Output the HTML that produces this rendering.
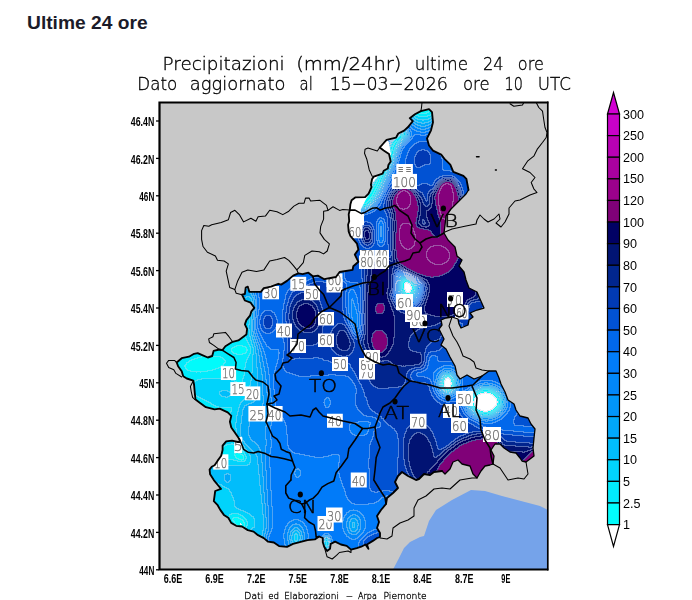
<!DOCTYPE html>
<html lang="it"><head><meta charset="utf-8"><title>Ultime 24 ore</title>
<style>
html,body{margin:0;padding:0;background:#fff;}
body{width:692px;height:600px;overflow:hidden;position:relative;font-family:"Liberation Sans",sans-serif;}
h2{position:absolute;left:26.8px;top:12.2px;margin:0;font-size:17.5px;line-height:22px;font-weight:700;color:#1b1b29;white-space:nowrap;transform:scaleX(1.098);transform-origin:0 0;}
svg{position:absolute;left:0;top:0;}
body>svg{will-change:transform;opacity:0.999;}
</style></head><body>
<h2>Ultime 24 ore</h2>
<svg width="692" height="600" viewBox="0 0 692 600">
<g font-family="DejaVu Sans Light, DejaVu Sans, Liberation Sans, sans-serif" font-weight="200" font-size="18" fill="#000" stroke="#000" stroke-width="0.35"><text><tspan x="162.6" y="70" textLength="122.0" lengthAdjust="spacingAndGlyphs">Precipitazioni</tspan> <tspan x="296.2" y="70" textLength="105.3" lengthAdjust="spacingAndGlyphs">(mm/24hr)</tspan> <tspan x="414.8" y="70" textLength="53.2" lengthAdjust="spacingAndGlyphs">ultime</tspan> <tspan x="483" y="70" textLength="20.5" lengthAdjust="spacingAndGlyphs">24</tspan> <tspan x="517.8" y="70" textLength="26.0" lengthAdjust="spacingAndGlyphs">ore</tspan></text><text><tspan x="137.3" y="90" textLength="39.9" lengthAdjust="spacingAndGlyphs">Dato</tspan> <tspan x="189.8" y="90" textLength="95.7" lengthAdjust="spacingAndGlyphs">aggiornato</tspan> <tspan x="299.5" y="90" textLength="13.3" lengthAdjust="spacingAndGlyphs">al</tspan> <tspan x="329.4" y="90" textLength="118.6" lengthAdjust="spacingAndGlyphs">15−03−2026</tspan> <tspan x="463" y="90" textLength="26.6" lengthAdjust="spacingAndGlyphs">ore</tspan> <tspan x="504.5" y="90" textLength="18.3" lengthAdjust="spacingAndGlyphs">10</tspan> <tspan x="537.8" y="90" textLength="33.2" lengthAdjust="spacingAndGlyphs">UTC</tspan></text></g>
<rect x="159.5" y="102.5" width="388.5" height="467.0" fill="#c8c8c8"/>
<svg x="0" y="0" width="692" height="600" viewBox="0 0 692 600">
<defs><clipPath id="frame"><rect x="159.5" y="102.5" width="388.5" height="467.0"/></clipPath></defs>
<g clip-path="url(#frame)">
<defs>
<clipPath id="pm"><polygon points="429.0,109.1 432.0,112.1 433.0,122.3 431.0,130.3 427.0,138.4 429.0,145.5 433.0,150.6 441.2,154.6 445.2,159.7 450.3,164.7 453.3,171.8 463.4,175.9 466.4,178.9 468.5,190.0 466.0,194.0 458.0,202.0 451.0,209.0 446.0,216.0 445.0,225.0 444.0,233.0 448.0,240.0 455.0,247.0 457.0,256.0 462.0,260.0 459.0,266.0 464.0,272.0 466.0,280.0 469.0,288.0 477.0,292.0 480.0,299.0 484.0,308.0 477.0,310.0 470.0,313.0 473.0,317.0 469.0,320.0 468.0,325.0 461.0,328.0 459.0,324.0 458.0,319.0 452.0,317.0 446.0,318.0 441.0,320.0 442.0,325.0 439.0,329.0 442.0,335.0 444.0,339.0 441.0,345.0 446.0,349.0 450.0,357.0 455.0,366.0 457.0,375.0 460.0,379.0 467.0,375.0 474.0,379.0 482.0,376.0 489.0,371.0 496.0,371.0 499.0,378.0 501.0,384.0 505.0,392.0 508.0,400.0 514.0,404.0 516.0,410.0 520.0,416.0 528.0,418.0 531.0,424.0 535.0,429.0 534.0,438.0 533.0,448.0 534.0,456.0 530.0,459.0 526.0,462.0 522.0,461.0 520.0,458.0 516.0,453.0 510.0,452.0 504.0,448.0 500.0,444.0 495.0,444.0 491.0,450.0 494.0,456.0 493.0,464.0 490.0,465.0 485.0,466.0 481.0,471.0 477.0,478.0 473.0,474.0 470.0,466.0 462.0,464.0 458.0,460.0 453.0,462.0 450.0,469.0 445.0,474.0 442.0,471.0 434.0,472.0 430.0,475.0 424.0,474.0 419.0,479.0 416.0,480.0 408.0,476.0 402.0,472.0 398.0,476.0 395.0,482.0 398.0,488.0 393.0,493.0 387.0,498.0 386.0,504.0 381.0,510.0 377.0,516.0 379.0,522.0 377.0,528.0 380.0,533.0 380.0,537.0 377.1,538.0 372.8,540.9 367.0,544.5 368.4,548.8 365.5,544.5 361.2,546.7 356.8,548.1 351.0,549.6 346.7,545.9 340.9,544.5 335.1,541.6 330.7,543.8 330.0,548.8 327.1,551.0 324.2,546.7 322.8,542.3 322.8,538.0 319.1,536.5 314.8,539.4 307.5,540.1 298.8,542.3 293.0,543.8 287.0,546.8 279.0,546.1 273.9,542.5 268.1,541.7 263.8,538.1 258.0,535.2 253.6,531.6 247.8,530.1 242.0,526.5 236.2,525.8 231.2,522.9 228.3,517.8 223.9,514.9 220.3,509.9 217.4,504.8 213.8,501.2 214.5,496.1 215.2,491.0 221.0,488.8 217.4,484.5 213.8,480.1 210.1,474.3 209.6,469.6 211.7,466.7 214.6,465.2 217.5,460.9 221.2,455.8 222.6,450.0 222.6,445.7 226.2,441.3 232.0,440.6 237.8,442.0 240.0,442.0 239.3,439.1 236.4,434.8 231.3,427.5 229.9,421.7 231.3,415.9 227.7,412.3 219.7,408.7 214.6,409.4 205.9,407.2 200.1,402.9 195.5,399.5 194.8,393.0 194.1,385.0 193.3,380.7 186.8,378.5 183.2,376.3 181.7,371.2 178.1,366.2 176.7,362.5 181.7,358.2 189.0,356.7 194.1,353.8 197.7,353.1 202.8,355.3 207.8,357.5 212.2,356.0 213.6,350.9 219.4,349.5 222.3,350.2 225.4,346.2 232.6,341.8 238.4,340.4 246.4,334.6 247.1,328.8 244.9,324.4 246.4,320.1 250.0,315.7 251.4,311.4 254.3,307.8 250.7,302.7 244.9,300.5 242.0,294.7 244.9,294.0 245.7,287.5 247.8,286.7 249.3,291.8 260.9,291.8 263.8,288.2 271.0,286.7 278.3,283.8 281.2,284.6 287.0,280.9 293.2,275.6 298.3,273.4 302.6,274.1 308.4,272.7 312.8,276.3 317.8,275.6 324.3,279.2 335.9,277.0 339.6,272.0 352.6,269.8 353.3,266.2 358.4,261.8 354.8,254.6 358.4,249.5 357.0,243.7 353.3,239.3 350.4,236.0 348.7,231.6 348.1,224.7 349.2,221.2 348.7,214.2 349.8,210.1 350.4,204.2 351.6,200.2 355.2,197.4 365.1,197.1 368.6,193.6 371.5,187.1 370.9,184.8 372.1,179.0 373.8,176.6 382.6,173.7 383.7,170.8 387.8,168.5 388.4,165.0 390.7,161.5 389.0,153.9 383.7,150.4 379.7,147.5 386.6,139.9 396.0,137.6 398.3,133.5 404.1,130.6 407.8,127.3 412.8,121.2 409.8,118.2 414.9,114.2 420.9,111.1"/></clipPath>
<filter id="bands" x="150" y="95" width="410" height="485" filterUnits="userSpaceOnUse" color-interpolation-filters="sRGB">
<feGaussianBlur stdDeviation="2.2" result="b"/>
<feComponentTransfer in="b" result="c"><feFuncR type="discrete" tableValues="1.000 0.000 0.000 0.000 0.000 0.000 0.000 0.000 0.000 0.000 0.000 0.000 0.000 0.000 0.000 0.502 0.522"/><feFuncG type="discrete" tableValues="1.000 0.988 0.922 0.831 0.745 0.659 0.588 0.529 0.486 0.408 0.322 0.227 0.149 0.078 0.000 0.000 0.000"/><feFuncB type="discrete" tableValues="1.000 0.988 0.988 0.988 0.988 0.980 0.980 0.980 0.980 0.925 0.831 0.706 0.557 0.451 0.392 0.471 0.490"/></feComponentTransfer>
<feComponentTransfer in="b" result="q"><feFuncR type="discrete" tableValues="0.0294 0.0882 0.1471 0.2059 0.2647 0.3235 0.3824 0.4412 0.5000 0.5588 0.6176 0.6765 0.7353 0.7941 0.8529 0.9118 0.9706"/></feComponentTransfer>
<feMorphology in="q" operator="dilate" radius="0.6" result="q2"/>
<feBlend in="q" in2="q2" mode="difference" result="d"/>
<feColorMatrix in="d" type="matrix" values="0 0 0 0 0.78  0 0 0 0 0.8  0 0 0 0 0.9  7 0 0 0 0" result="e"/>
<feComposite in="e" in2="c" operator="over"/>
</filter></defs>
<defs><filter id="bl0.4" x="-100%" y="-100%" width="300%" height="300%" color-interpolation-filters="sRGB"><feGaussianBlur stdDeviation="0.4"/></filter><filter id="bl0.5" x="-100%" y="-100%" width="300%" height="300%" color-interpolation-filters="sRGB"><feGaussianBlur stdDeviation="0.5"/></filter><filter id="bl0.6" x="-100%" y="-100%" width="300%" height="300%" color-interpolation-filters="sRGB"><feGaussianBlur stdDeviation="0.6"/></filter><filter id="bl0.7" x="-100%" y="-100%" width="300%" height="300%" color-interpolation-filters="sRGB"><feGaussianBlur stdDeviation="0.7"/></filter><filter id="bl0.8" x="-100%" y="-100%" width="300%" height="300%" color-interpolation-filters="sRGB"><feGaussianBlur stdDeviation="0.8"/></filter><filter id="bl1" x="-100%" y="-100%" width="300%" height="300%" color-interpolation-filters="sRGB"><feGaussianBlur stdDeviation="1"/></filter><filter id="bl1.2" x="-100%" y="-100%" width="300%" height="300%" color-interpolation-filters="sRGB"><feGaussianBlur stdDeviation="1.2"/></filter><filter id="bl1.3" x="-100%" y="-100%" width="300%" height="300%" color-interpolation-filters="sRGB"><feGaussianBlur stdDeviation="1.3"/></filter><filter id="bl1.5" x="-100%" y="-100%" width="300%" height="300%" color-interpolation-filters="sRGB"><feGaussianBlur stdDeviation="1.5"/></filter><filter id="bl2" x="-100%" y="-100%" width="300%" height="300%" color-interpolation-filters="sRGB"><feGaussianBlur stdDeviation="2"/></filter><filter id="bl2.2" x="-100%" y="-100%" width="300%" height="300%" color-interpolation-filters="sRGB"><feGaussianBlur stdDeviation="2.2"/></filter><filter id="bl2.5" x="-100%" y="-100%" width="300%" height="300%" color-interpolation-filters="sRGB"><feGaussianBlur stdDeviation="2.5"/></filter><filter id="bl3" x="-100%" y="-100%" width="300%" height="300%" color-interpolation-filters="sRGB"><feGaussianBlur stdDeviation="3"/></filter><filter id="bl3.5" x="-100%" y="-100%" width="300%" height="300%" color-interpolation-filters="sRGB"><feGaussianBlur stdDeviation="3.5"/></filter><filter id="bl4" x="-100%" y="-100%" width="300%" height="300%" color-interpolation-filters="sRGB"><feGaussianBlur stdDeviation="4"/></filter><filter id="bl5" x="-100%" y="-100%" width="300%" height="300%" color-interpolation-filters="sRGB"><feGaussianBlur stdDeviation="5"/></filter></defs>
<polygon points="393.0,569.5 398.0,560.0 404.0,548.0 410.0,542.0 420.0,537.0 424.0,536.0 429.0,521.0 436.0,510.0 452.0,500.0 471.0,490.0 485.0,491.0 502.0,496.0 540.0,506.0 548.0,510.0 548.0,569.5" fill="#75a3ea"/>
<g clip-path="url(#pm)"><g filter="url(#bands)">
<rect x="140" y="90" width="430" height="500" fill="#8e8e8e"/>
<polygon points="150.0,270.0 300.0,270.0 292.0,330.0 284.0,400.0 290.0,470.0 296.0,560.0 150.0,560.0" fill="#808080" filter="url(#bl5)"/>
<polygon points="150.0,280.0 255.0,283.0 257.0,303.0 259.0,332.0 265.0,360.0 269.0,376.0 272.0,400.0 274.0,452.0 280.0,491.0 290.0,521.0 294.0,560.0 150.0,560.0" fill="#696969" filter="url(#bl2.5)"/>
<polygon points="150.0,285.0 252.0,285.0 254.0,303.0 256.0,332.0 261.0,360.0 264.0,376.0 265.0,400.0 264.0,452.0 270.0,491.0 279.0,521.0 284.0,560.0 150.0,560.0" fill="#525252" filter="url(#bl2.5)"/>
<polygon points="150.0,330.0 250.0,300.0 253.0,332.0 256.0,360.0 257.0,376.0 256.0,400.0 250.0,430.0 256.0,452.0 261.0,491.0 269.0,521.0 272.0,560.0 150.0,560.0" fill="#3c3c3c" filter="url(#bl2.5)"/>
<polygon points="150.0,330.0 248.0,300.0 250.0,332.0 250.0,360.0 248.0,376.0 240.0,400.0 232.0,420.0 236.0,440.0 150.0,440.0" fill="#2a2a2a" filter="url(#bl2.5)"/>
<polygon points="150.0,440.0 240.0,440.0 247.0,470.0 246.0,491.0 252.0,521.0 256.0,560.0 150.0,560.0" fill="#3e3e3e" filter="url(#bl3)"/>
<g filter="url(#bl3)"><ellipse cx="222" cy="500" rx="8" ry="14" fill="#2e2e2e" transform="rotate(-20 222 500)"/></g>
<g filter="url(#bl3)"><ellipse cx="205" cy="364" rx="24" ry="9" fill="#161616" transform="rotate(-8 205 364)"/></g>
<g filter="url(#bl3)"><ellipse cx="215" cy="390" rx="22" ry="10" fill="#343434" transform="rotate(10 215 390)"/></g>
<ellipse cx="240" cy="350" rx="12" ry="6" fill="#161616" filter="url(#bl2.5)"/>
<ellipse cx="226" cy="394" rx="15.3" ry="10" fill="#3c3c3c" filter="url(#bl3)"/>
<ellipse cx="232" cy="452" rx="14" ry="9" fill="#1e1e1e" filter="url(#bl3)"/>
<g filter="url(#bl0.8)"><ellipse cx="241" cy="458" rx="5" ry="2.6" fill="#000000" transform="rotate(18 241 458)"/></g>
<ellipse cx="227.5" cy="478" rx="4.5" ry="6" fill="#525252" filter="url(#bl1.5)"/>
<g filter="url(#bl2.5)"><ellipse cx="238" cy="521" rx="11" ry="7" fill="#161616" transform="rotate(25 238 521)"/></g>
<g filter="url(#bl0.6)"><ellipse cx="241" cy="525.5" rx="4" ry="2" fill="#000000" transform="rotate(25 241 525.5)"/></g>
<ellipse cx="276" cy="540" rx="10" ry="8" fill="#8e8e8e" filter="url(#bl3)"/>
<polygon points="244.0,404.0 266.0,404.0 270.0,432.0 280.0,452.0 250.0,450.0 240.0,436.0" fill="#5a5a5a" filter="url(#bl3)"/>
<polygon points="256.0,284.0 300.0,274.0 300.0,345.0 270.0,350.0 254.0,330.0" fill="#8e8e8e" filter="url(#bl4)"/>
<ellipse cx="268" cy="322" rx="7" ry="10" fill="#acacac" filter="url(#bl2.5)"/>
<g filter="url(#bl2.5)"><ellipse cx="249" cy="315" rx="4" ry="22" fill="#343434" transform="rotate(8 249 315)"/></g>
<polygon points="284.0,352.0 362.0,350.0 380.0,395.0 362.0,424.0 300.0,420.0 278.0,416.0 274.0,380.0" fill="#939393" filter="url(#bl4)"/>
<polygon points="284.0,349.0 345.0,348.0 364.0,352.0 394.0,372.0 400.0,395.0 390.0,416.0 366.0,417.0 358.0,402.0 361.0,386.0 352.0,373.0 332.0,371.0 300.0,373.0 284.0,367.0" fill="#a4a4a4" filter="url(#bl2.5)"/>
<ellipse cx="327.3" cy="402.4" rx="5.5" ry="8.5" fill="#808080" filter="url(#bl2)"/>
<polygon points="290.0,292.0 318.0,280.0 345.0,286.0 346.0,350.0 300.0,352.0 286.0,340.0" fill="#b4b4b4" filter="url(#bl3.5)"/>
<g filter="url(#bl3)"><ellipse cx="307" cy="318" rx="19" ry="24" fill="#bcbcbc" transform="rotate(-15 307 318)"/></g>
<g filter="url(#bl2.5)"><ellipse cx="307" cy="316" rx="12" ry="14.5" fill="#dadada" transform="rotate(-15 307 316)"/></g>
<g filter="url(#bl2.5)"><ellipse cx="295" cy="344" rx="5" ry="10" fill="#c3c3c3" transform="rotate(30 295 344)"/></g>
<polygon points="320.0,292.0 344.0,286.0 346.0,356.0 324.0,356.0" fill="#acacac" filter="url(#bl4)"/>
<polygon points="268.0,420.0 395.0,420.0 395.0,552.0 268.0,552.0" fill="#808080" filter="url(#bl5)"/>
<polygon points="288.0,416.0 346.0,420.0 350.0,448.0 320.0,456.0 290.0,450.0" fill="#939393" filter="url(#bl3.5)"/>
<polygon points="346.0,438.0 378.0,438.0 380.0,500.0 352.0,504.0 340.0,470.0" fill="#939393" filter="url(#bl4)"/>
<ellipse cx="354" cy="524.5" rx="10" ry="14" fill="#626262" filter="url(#bl3)"/>
<ellipse cx="353.5" cy="525" rx="4.5" ry="7.5" fill="#444444" filter="url(#bl1.5)"/>
<ellipse cx="296" cy="536" rx="10" ry="15" fill="#5a5a5a" filter="url(#bl3)"/>
<ellipse cx="296" cy="538" rx="5" ry="9" fill="#343434" filter="url(#bl1.5)"/>
<ellipse cx="297.7" cy="473" rx="2.5" ry="5" fill="#626262" filter="url(#bl1.5)"/>
<ellipse cx="326.5" cy="544" rx="3.2" ry="9" fill="#101010" filter="url(#bl1.2)"/>
<g filter="url(#bl2.5)"><ellipse cx="374" cy="540" rx="14" ry="6" fill="#a5a5a5" transform="rotate(-25 374 540)"/></g>
<polygon points="366.0,256.0 400.0,262.0 440.0,270.0 470.0,268.0 486.0,300.0 470.0,318.0 446.0,322.0 428.0,335.0 410.0,350.0 406.0,364.0 384.0,364.0 366.0,356.0 357.0,338.0 362.0,320.0 366.0,292.0" fill="#cecece" filter="url(#bl3)"/>
<g filter="url(#bl2.5)"><ellipse cx="379" cy="314" rx="12.5" ry="50" fill="#dedede" transform="rotate(-3 379 314)"/></g>
<polygon points="408.0,264.0 466.0,266.0 476.0,300.0 448.0,316.0 424.0,310.0 420.0,290.0" fill="#dedede" filter="url(#bl3)"/>
<polygon points="356.0,358.0 412.0,362.0 408.0,392.0 385.0,398.0 362.0,384.0" fill="#b4b4b4" filter="url(#bl4)"/>
<polygon points="386.0,350.0 426.0,348.0 424.0,368.0 392.0,368.0" fill="#cacaca" filter="url(#bl2.5)"/>
<g filter="url(#bl3)"><ellipse cx="426" cy="338" rx="20" ry="13" fill="#bcbcbc" transform="rotate(-15 426 338)"/></g>
<g filter="url(#bl2)"><ellipse cx="436" cy="346" rx="10" ry="6.5" fill="#acacac" transform="rotate(-15 436 346)"/></g>
<ellipse cx="449" cy="364" rx="13" ry="14" fill="#9e9e9e" filter="url(#bl3.5)"/>
<polygon points="468.0,300.0 488.0,300.0 488.0,332.0 456.0,332.0 458.0,320.0 466.0,312.0" fill="#a5a5a5" filter="url(#bl2)"/>
<ellipse cx="345" cy="340" rx="12" ry="15.3" fill="#cacaca" filter="url(#bl4)"/>
<g filter="url(#bl3)"><ellipse cx="354" cy="312" rx="8" ry="30" fill="#8e8e8e" transform="rotate(-8 354 312)"/></g>
<g filter="url(#bl2)"><ellipse cx="354" cy="312" rx="4.5" ry="24" fill="#707070" transform="rotate(-8 354 312)"/></g>
<g filter="url(#bl1)"><ellipse cx="355" cy="318" rx="2" ry="10" fill="#626262" transform="rotate(-8 355 318)"/></g>
<ellipse cx="408" cy="286" rx="19" ry="26" fill="#9e9e9e" filter="url(#bl3)"/>
<ellipse cx="408" cy="285.5" rx="13.5" ry="19.5" fill="#525252" filter="url(#bl2.5)"/>
<ellipse cx="408" cy="285" rx="8.5" ry="13" fill="#161616" filter="url(#bl1.5)"/>
<ellipse cx="408" cy="285.3" rx="4.8" ry="8.6" fill="#000000" filter="url(#bl0.4)"/>
<g filter="url(#bl0.5)"><ellipse cx="380" cy="308.5" rx="1.9" ry="4.4" fill="#ededed" transform="rotate(8 380 308.5)"/></g>
<g filter="url(#bl1)"><ellipse cx="379.5" cy="342" rx="6.5" ry="9.5" fill="#ededed" transform="rotate(-12 379.5 342)"/></g>
<polygon points="395.0,120.0 445.0,120.0 480.0,170.0 480.0,200.0 440.0,240.0 345.0,250.0 345.0,200.0" fill="#939393" filter="url(#bl3)"/>
<ellipse cx="423" cy="108" rx="20.4" ry="28.3" fill="#808080" filter="url(#bl1.2)"/>
<ellipse cx="423" cy="108" rx="19.1" ry="25.2" fill="#707070" filter="url(#bl1.2)"/>
<ellipse cx="423" cy="108" rx="17.8" ry="22.1" fill="#626262" filter="url(#bl1.2)"/>
<ellipse cx="423" cy="108" rx="16.5" ry="19.0" fill="#525252" filter="url(#bl1.2)"/>
<ellipse cx="423" cy="108" rx="15.2" ry="15.9" fill="#444444" filter="url(#bl1.2)"/>
<ellipse cx="423" cy="108" rx="13.9" ry="12.8" fill="#343434" filter="url(#bl1.2)"/>
<ellipse cx="423" cy="108" rx="12.6" ry="9.7" fill="#262626" filter="url(#bl1.2)"/>
<ellipse cx="423" cy="108" rx="11.3" ry="6.6" fill="#161616" filter="url(#bl1.2)"/>
<ellipse cx="424" cy="166" rx="15" ry="22" fill="#a2a2a2" filter="url(#bl3)"/>
<ellipse cx="422.5" cy="160" rx="6" ry="9" fill="#b1b1b1" filter="url(#bl2)"/>
<ellipse cx="404" cy="222" rx="20" ry="40" fill="#d0d0d0" filter="url(#bl3)"/>
<ellipse cx="447" cy="207" rx="15.3" ry="30" fill="#cacaca" filter="url(#bl3.5)"/>
<ellipse cx="432" cy="255" rx="38" ry="27" fill="#dadada" filter="url(#bl3.5)"/>
<ellipse cx="462" cy="185" rx="5" ry="12" fill="#9e9e9e" filter="url(#bl2)"/>
<ellipse cx="405" cy="208" rx="14" ry="20" fill="#ededed" filter="url(#bl1.5)"/>
<g filter="url(#bl1.5)"><ellipse cx="406" cy="232" rx="11" ry="20" fill="#ededed" transform="rotate(-5 406 232)"/></g>
<g filter="url(#bl1.5)"><ellipse cx="445.5" cy="208" rx="14.5" ry="28.5" fill="#ededed" transform="rotate(8 445.5 208)"/></g>
<g filter="url(#bl2)"><ellipse cx="425" cy="252" rx="31" ry="23" fill="#ededed" transform="rotate(14 425 252)"/></g>
<polygon points="392.0,232.0 455.0,228.0 457.0,258.0 396.0,262.0" fill="#ededed" filter="url(#bl2)"/>
<ellipse cx="403.5" cy="199" rx="4.5" ry="8" fill="#ffffff" filter="url(#bl1.2)"/>
<g filter="url(#bl1.2)"><ellipse cx="407" cy="236" rx="5" ry="11" fill="#ffffff" transform="rotate(-8 407 236)"/></g>
<g filter="url(#bl1.2)"><ellipse cx="445" cy="201" rx="5" ry="17" fill="#ffffff" transform="rotate(5 445 201)"/></g>
<g filter="url(#bl1.2)"><ellipse cx="438" cy="255" rx="9" ry="6.5" fill="#ffffff" transform="rotate(10 438 255)"/></g>
<g filter="url(#bl1.2)"><ellipse cx="468" cy="462" rx="10" ry="5" fill="#ffffff" transform="rotate(-25 468 462)"/></g>
<g filter="url(#bl1.5)"><ellipse cx="431" cy="212" rx="8" ry="29" fill="#d6d6d6" transform="rotate(-15 431 212)"/></g>
<g filter="url(#bl1.5)"><ellipse cx="425" cy="187" rx="4" ry="22" fill="#a5a5a5" transform="rotate(-7 425 187)"/></g>
<ellipse cx="424" cy="172" rx="4" ry="10" fill="#9e9e9e" filter="url(#bl1.5)"/>
<polygon points="405.0,128.0 409.0,133.0 398.0,146.0 394.0,160.0 378.0,195.0 366.0,214.0 350.0,222.0 344.0,214.0 366.0,192.0 384.0,160.0 390.0,140.0" fill="#161616" filter="url(#bl1.2)"/>
<polygon points="409.0,131.0 413.0,135.0 401.0,148.0 397.0,162.0 381.0,197.0 369.0,216.0 366.0,214.0 378.0,195.0 394.0,160.0 398.0,146.0" fill="#525252" filter="url(#bl1.2)"/>
<polygon points="345.0,212.0 392.0,208.0 392.0,282.0 345.0,282.0" fill="#9e9e9e" filter="url(#bl3)"/>
<g filter="url(#bl2.5)"><ellipse cx="367" cy="235" rx="6.5" ry="12" fill="#b4b4b4" transform="rotate(-5 367 235)"/></g>
<g filter="url(#bl1.2)"><ellipse cx="367" cy="235.2" rx="3.7" ry="8.5" fill="#dedede" transform="rotate(-5 367 235.2)"/></g>
<ellipse cx="381" cy="232" rx="3.2" ry="14" fill="#686868" filter="url(#bl1.5)"/>
<polygon points="366.0,264.0 392.0,258.0 394.0,292.0 366.0,292.0" fill="#d4d4d4" filter="url(#bl2.5)"/>
<polygon points="366.0,384.0 412.0,380.0 485.0,380.0 485.0,492.0 392.0,492.0 396.0,440.0 380.0,420.0" fill="#acacac" filter="url(#bl3.5)"/>
<polygon points="370.0,364.0 408.0,368.0 404.0,386.0 374.0,388.0" fill="#bcbcbc" filter="url(#bl3)"/>
<polygon points="372.0,425.0 397.0,428.0 396.0,492.0 372.0,492.0" fill="#9e9e9e" filter="url(#bl3)"/>
<g filter="url(#bl3)"><ellipse cx="421" cy="454" rx="16" ry="31" fill="#c2c2c2" transform="rotate(-8 421 454)"/></g>
<g filter="url(#bl2)"><ellipse cx="421" cy="460" rx="10.5" ry="23" fill="#d0d0d0" transform="rotate(-8 421 460)"/></g>
<g filter="url(#bl2.5)"><ellipse cx="446" cy="432" rx="7" ry="20" fill="#a4a4a4" transform="rotate(-5 446 432)"/></g>
<polygon points="479.0,372.0 548.0,372.0 548.0,433.0 480.0,428.0" fill="#969696" filter="url(#bl3)"/>
<polygon points="480.0,432.0 548.0,438.0 548.0,446.0 482.0,441.0" fill="#b4b4b4" filter="url(#bl2)"/>
<polygon points="482.0,442.0 548.0,447.0 548.0,480.0 486.0,480.0" fill="#d2d2d2" filter="url(#bl2.5)"/>
<polygon points="426.0,482.0 434.0,464.0 444.0,451.0 458.0,441.0 473.0,435.0 488.0,433.0 498.0,435.0 500.0,488.0" fill="#dadada" filter="url(#bl2)"/>
<polygon points="433.0,484.0 440.0,467.0 450.0,455.0 462.0,446.0 475.0,441.0 488.0,439.0 499.0,441.0 500.0,488.0" fill="#ededed" filter="url(#bl1.3)"/>
<polygon points="513.0,472.0 538.0,446.0 550.0,476.0" fill="#ededed" filter="url(#bl1.0)"/>
<ellipse cx="485.5" cy="402" rx="24" ry="20" fill="#626262" filter="url(#bl4)"/>
<ellipse cx="485.5" cy="402" rx="18" ry="15" fill="#1e1e1e" filter="url(#bl2.2)"/>
<ellipse cx="485.5" cy="402" rx="13" ry="10.5" fill="#000000" filter="url(#bl0.8)"/>
<ellipse cx="448" cy="383" rx="15" ry="19" fill="#707070" filter="url(#bl3.5)"/>
<ellipse cx="448" cy="383" rx="9" ry="11" fill="#262626" filter="url(#bl2)"/>
<ellipse cx="447.6" cy="383.5" rx="5.6" ry="8.6" fill="#000000" filter="url(#bl0.7)"/>
</g></g>
<g clip-path="url(#pm)">
<g fill="#fff"><polygon points="386.6,139.9 388.6,141.5 391.2,155.5 389.0,153.9 383.7,150.4 379.7,147.5"/><polygon points="373.8,176.6 378.5,175.8 372.5,183.0 371.0,184.8 372.1,179.0"/><polygon points="368.5,194.3 355.1,196.7 351.6,200.2 350.4,204.2 349.8,210.1 355.1,210.1 360.8,213.2 360.8,209.5"/><polygon points="349.8,210.1 355.1,210.1 361.5,213.6 364.0,214.0 364.0,225.0 362.3,225.5 362.3,238.3 350.4,237.5 348.7,231.6 348.1,224.7 349.2,221.2 348.7,214.2"/></g>
<g font-family="DejaVu Sans Light, DejaVu Sans, Liberation Sans, sans-serif" font-weight="200" font-size="14.6" fill="#666" stroke="#666" stroke-width="0.25" text-anchor="middle">
<rect x="396.3" y="164" width="16.6" height="11.0" fill="#fff" stroke="none"/>
<text x="404.6" y="172.9" font-size="11" textLength="12.6" lengthAdjust="spacingAndGlyphs">≡ ≡</text>
<rect x="391.9" y="173.9" width="25.1" height="15.1" fill="#fff" stroke="none"/>
<text x="404.4" y="187.4" textLength="22.9" lengthAdjust="spacingAndGlyphs">100</text>
<rect x="347.5" y="224" width="14.8" height="14.3" fill="#fff" stroke="none"/>
<text x="354.9" y="236.7" textLength="12.6" lengthAdjust="spacingAndGlyphs">60</text>
<rect x="360" y="250" width="14.5" height="12.0" fill="#fff" stroke="none"/>
<text x="367.2" y="260.4" textLength="12.3" lengthAdjust="spacingAndGlyphs">70</text>
<rect x="374.5" y="250" width="14.5" height="12.0" fill="#fff" stroke="none"/>
<text x="381.8" y="260.4" textLength="12.3" lengthAdjust="spacingAndGlyphs">40</text>
<rect x="359" y="255.5" width="15.5" height="13.5" fill="#fff" stroke="none"/>
<text x="366.8" y="267.4" textLength="13.3" lengthAdjust="spacingAndGlyphs">80</text>
<rect x="374.5" y="255.5" width="14.5" height="13.5" fill="#fff" stroke="none"/>
<text x="381.8" y="267.4" textLength="12.3" lengthAdjust="spacingAndGlyphs">60</text>
<rect x="262.3" y="286" width="16.7" height="13.3" fill="#fff" stroke="none"/>
<text x="270.6" y="297.7" textLength="14.5" lengthAdjust="spacingAndGlyphs">30</text>
<rect x="290.3" y="276.8" width="15.9" height="14.0" fill="#fff" stroke="none"/>
<text x="298.2" y="289.2" textLength="13.7" lengthAdjust="spacingAndGlyphs">15</text>
<rect x="304" y="285.7" width="16.0" height="14.5" fill="#fff" stroke="none"/>
<text x="312.0" y="298.6" textLength="13.8" lengthAdjust="spacingAndGlyphs">50</text>
<rect x="326.5" y="279" width="16.0" height="13.5" fill="#fff" stroke="none"/>
<text x="334.5" y="290.9" textLength="13.8" lengthAdjust="spacingAndGlyphs">90</text>
<rect x="326.5" y="273.4" width="16.0" height="13.6" fill="#fff" stroke="none"/>
<text x="334.5" y="285.4" textLength="13.8" lengthAdjust="spacingAndGlyphs">60</text>
<rect x="318" y="312" width="16.0" height="13.5" fill="#fff" stroke="none"/>
<text x="326.0" y="323.9" textLength="13.8" lengthAdjust="spacingAndGlyphs">60</text>
<rect x="318" y="333.5" width="16.0" height="13.5" fill="#fff" stroke="none"/>
<text x="326.0" y="345.4" textLength="13.8" lengthAdjust="spacingAndGlyphs">60</text>
<rect x="276" y="323.5" width="16.0" height="14.0" fill="#fff" stroke="none"/>
<text x="284.0" y="335.9" textLength="13.8" lengthAdjust="spacingAndGlyphs">40</text>
<rect x="290" y="339" width="16.0" height="14.0" fill="#fff" stroke="none"/>
<text x="298.0" y="351.4" textLength="13.8" lengthAdjust="spacingAndGlyphs">70</text>
<rect x="332" y="357" width="16.0" height="14.0" fill="#fff" stroke="none"/>
<text x="340.0" y="369.4" textLength="13.8" lengthAdjust="spacingAndGlyphs">50</text>
<rect x="220.9" y="366.2" width="15.2" height="13.8" fill="#fff" stroke="none"/>
<text x="228.5" y="378.4" textLength="13.0" lengthAdjust="spacingAndGlyphs">10</text>
<rect x="230.3" y="382.1" width="15.2" height="13.9" fill="#fff" stroke="none"/>
<text x="237.9" y="394.4" textLength="13.0" lengthAdjust="spacingAndGlyphs">15</text>
<rect x="244.8" y="386.4" width="15.5" height="13.9" fill="#fff" stroke="none"/>
<text x="252.6" y="398.7" textLength="13.3" lengthAdjust="spacingAndGlyphs">20</text>
<rect x="248.4" y="406" width="17.0" height="15.5" fill="#fff" stroke="none"/>
<text x="256.9" y="419.9" textLength="14.8" lengthAdjust="spacingAndGlyphs">25</text>
<rect x="267" y="406" width="15.6" height="15.5" fill="#fff" stroke="none"/>
<text x="274.8" y="419.9" textLength="13.4" lengthAdjust="spacingAndGlyphs">40</text>
<rect x="327" y="413.75" width="15.8" height="14.0" fill="#fff" stroke="none"/>
<text x="334.9" y="426.1" textLength="13.6" lengthAdjust="spacingAndGlyphs">40</text>
<rect x="234.2" y="437" width="8.0" height="16.0" fill="#fff" stroke="none"/>
<text x="238.2" y="451.4">5</text>
<rect x="213.2" y="454.3" width="15.2" height="15.3" fill="#fff" stroke="none"/>
<text x="220.8" y="468.0" textLength="13.0" lengthAdjust="spacingAndGlyphs">10</text>
<rect x="350.75" y="472.5" width="16.0" height="15.0" fill="#fff" stroke="none"/>
<text x="358.8" y="485.9" textLength="13.8" lengthAdjust="spacingAndGlyphs">40</text>
<rect x="317.5" y="516" width="16.2" height="15.0" fill="#fff" stroke="none"/>
<text x="325.6" y="529.4" textLength="14.1" lengthAdjust="spacingAndGlyphs">20</text>
<rect x="326" y="507.5" width="16.5" height="15.0" fill="#fff" stroke="none"/>
<text x="334.2" y="520.9" textLength="14.3" lengthAdjust="spacingAndGlyphs">30</text>
<rect x="359" y="366" width="16.0" height="13.5" fill="#fff" stroke="none"/>
<text x="367.0" y="377.9" textLength="13.8" lengthAdjust="spacingAndGlyphs">70</text>
<rect x="359" y="358" width="16.0" height="14.0" fill="#fff" stroke="none"/>
<text x="367.0" y="370.4" textLength="13.8" lengthAdjust="spacingAndGlyphs">80</text>
<rect x="364" y="350" width="16.0" height="14.0" fill="#fff" stroke="none"/>
<text x="372.0" y="362.4" textLength="13.8" lengthAdjust="spacingAndGlyphs">90</text>
<rect x="396" y="294" width="17.0" height="16.0" fill="#fff" stroke="none"/>
<text x="404.5" y="308.4" textLength="14.8" lengthAdjust="spacingAndGlyphs">60</text>
<rect x="410" y="314.5" width="17.0" height="13.5" fill="#fff" stroke="none"/>
<text x="418.5" y="326.4" textLength="14.8" lengthAdjust="spacingAndGlyphs">80</text>
<rect x="405" y="307" width="17.0" height="15.0" fill="#fff" stroke="none"/>
<text x="413.5" y="320.4" textLength="14.8" lengthAdjust="spacingAndGlyphs">90</text>
<rect x="447" y="292" width="16.0" height="15.0" fill="#fff" stroke="none"/>
<text x="455.0" y="305.4" textLength="13.8" lengthAdjust="spacingAndGlyphs">70</text>
<rect x="455" y="305" width="13.5" height="14.5" fill="#fff" stroke="none"/>
<text x="461.8" y="317.9" textLength="11.3" lengthAdjust="spacingAndGlyphs">60</text>
<rect x="443" y="404" width="16.0" height="14.0" fill="#fff" stroke="none"/>
<text x="451.0" y="416.4" textLength="13.8" lengthAdjust="spacingAndGlyphs">40</text>
<rect x="456" y="391" width="17.0" height="15.0" fill="#fff" stroke="none"/>
<text x="464.5" y="404.4" textLength="14.8" lengthAdjust="spacingAndGlyphs">50</text>
<rect x="451" y="418" width="17.0" height="15.0" fill="#fff" stroke="none"/>
<text x="459.5" y="431.4" textLength="14.8" lengthAdjust="spacingAndGlyphs">60</text>
<rect x="483" y="427" width="18.0" height="15.0" fill="#fff" stroke="none"/>
<text x="492.0" y="440.4" textLength="15.8" lengthAdjust="spacingAndGlyphs">80</text>
<rect x="410" y="413.75" width="16.5" height="15.0" fill="#fff" stroke="none"/>
<text x="418.2" y="427.1" textLength="14.3" lengthAdjust="spacingAndGlyphs">70</text>
</g></g>
<g fill="none" stroke="#000" stroke-width="1.05" stroke-linejoin="round" stroke-linecap="round">
<polyline points="379.7,147.5 377.3,151.0 368.0,148.1 365.1,149.2 364.5,153.3 366.8,159.2 369.2,169.7 372.1,176.1 373.8,176.6"/>
<polyline points="349.8,210.1 342.8,209.5 339.6,210.4 333.0,206.8 328.0,210.4 326.5,205.4 320.0,200.3 310.6,201.0 309.1,198.1 305.5,198.1 304.1,203.2 299.0,203.2 293.9,206.1 288.8,211.2 282.8,214.6 277.0,211.7 269.7,210.3 265.4,216.1 258.1,216.8 255.9,221.2 250.9,218.3 243.6,221.9 239.3,214.6 234.9,210.3 230.6,212.5 228.4,219.7 221.2,222.6 211.7,224.8 208.8,226.2 203.8,225.5 201.6,230.6 201.6,239.3 203.0,246.5 207.4,252.3 215.4,255.9 217.5,260.3 224.1,261.0 228.4,263.9 226.2,271.2 228.3,280.9 229.7,287.5 234.8,289.6 236.2,293.3 242.0,294.7"/>
<polyline points="328.0,210.4 323.6,211.2 323.6,219.1 320.7,226.4 320.0,232.9 324.3,239.4 329.4,243.8 327.2,251.0 323.6,253.9 319.3,251.7 312.0,251.0 304.8,255.4 303.3,262.6 299.0,267.6 296.8,269.8 298.3,273.4"/>
<polyline points="234.8,289.6 237.7,280.9 242.0,272.2 247.8,270.1 256.5,271.5 263.8,270.1 269.7,261.0 277.0,259.6 284.5,257.5 288.8,260.4 293.2,265.4 296.8,269.8"/>
<polyline points="232.6,341.8 229.0,336.7 225.4,332.4 213.8,333.8 213.0,336.7 208.7,338.9 209.4,342.5 213.8,345.4 218.8,349.1 221.7,350.5"/>
<polyline points="176.7,362.5 174.5,360.4 168.7,360.4 166.5,363.3 168.7,367.6 173.8,369.8 175.9,373.4 181.7,377.0"/>
<polyline points="193.3,380.7 190.4,386.4 191.2,391.5 192.6,397.3 194.8,399.5"/>
<polyline points="324.2,546.7 327.1,556.8 332.2,559.0 336.5,555.4 339.4,552.5 348.1,551.0 351.0,552.5 351.0,549.6"/>
<polyline points="380.0,538.0 387.0,539.0 392.0,536.0 393.0,528.0 400.0,523.0 408.0,520.0 414.0,516.0 414.0,508.0 418.0,500.0 426.0,496.0 434.0,489.0 442.0,488.0 450.0,489.0 460.0,480.0 472.0,478.0 477.0,478.0"/>
<polyline points="493.0,464.0 500.0,468.0 504.0,474.0 508.0,480.0 518.0,478.0 524.0,479.0 528.0,474.0 526.0,462.0"/>
<polyline points="452.0,317.0 449.0,326.0 453.0,336.0 457.0,342.0 460.0,348.0 463.0,356.0 470.0,359.0 474.0,362.0 476.0,368.0 482.0,370.0 489.0,371.0"/>
<polyline points="445.0,232.0 452.0,229.0 466.0,226.0 476.0,224.0 477.0,220.0 480.0,215.0 484.0,219.0 488.0,222.0 494.0,219.0 499.0,214.0 500.0,219.0 496.0,223.0 501.0,227.0 505.0,222.0 509.0,214.0 509.0,208.0 515.0,201.0 520.0,200.0 525.0,197.5 530.0,195.0 537.0,192.5 533.8,188.8 531.2,182.5 535.0,177.5 530.0,172.5 522.5,168.8 527.5,161.2 533.8,156.2 537.5,148.8 542.5,142.5 546.2,137.5 547.0,132.5 545.0,127.5 543.8,120.0 542.5,111.2 538.8,107.5 536.2,102.5"/>
<polyline points="510.0,103.8 513.8,106.2 522.5,105.0 523.8,102.5"/>
<polyline points="420.9,111.1 421.5,107.5 422.0,102.5"/>
<path d="M476.5 156.8h2.6M495.4 170h1" stroke-width="1.4"/>
</g>
<g fill="none" stroke="#000" stroke-width="1.55" stroke-linejoin="round" stroke-linecap="round">
<polyline points="349.8,210.1 355.1,210.1 361.5,213.6 365.0,212.4 372.0,208.3 376.6,207.7 380.1,210.1 384.8,208.3 390.6,207.2 394.7,205.4 397.6,207.7 400.0,210.7 408.0,216.0 412.0,225.0 411.0,233.0 415.0,239.0 420.0,243.0 426.0,239.0 432.0,237.0 437.0,237.0 444.0,233.0"/>
<polyline points="420.0,243.0 422.0,247.0 419.0,252.0 413.0,253.0 410.0,259.0 405.0,261.0 397.0,263.0 389.0,266.0 385.0,271.0 380.0,274.0 375.0,278.0 371.0,282.0 363.0,283.0 353.0,286.0 345.0,289.0"/>
<polyline points="312.8,276.3 314.9,284.3 320.0,290.8 323.6,294.4 327.2,303.1 329.4,307.5"/>
<polyline points="345.0,289.0 341.7,290.8 341.0,295.9 335.2,301.7 329.4,307.5"/>
<polyline points="329.4,307.5 321.0,312.0 315.0,318.0 311.0,324.0 303.0,330.0 298.0,334.0 297.0,344.0 290.0,353.0 287.0,355.0 292.0,358.0 288.0,362.0 283.0,363.0 281.0,368.0 275.0,374.0 276.0,380.0 281.0,386.0 279.0,394.0 274.0,396.0 277.0,400.0 273.0,403.0 267.0,404.0"/>
<polyline points="329.4,307.5 340.0,312.0 348.0,318.0 355.0,324.0 357.0,333.0 359.0,343.0 362.0,350.0 366.0,357.0 375.0,362.0 383.0,365.0 389.0,364.0 397.0,366.0 399.0,373.0 404.0,377.0 410.0,381.0 416.0,382.0 420.0,383.0"/>
<polyline points="222.3,350.2 228.1,353.8 233.9,357.5 236.1,362.5 235.4,369.1 241.2,370.5 248.4,371.2 252.8,377.0 255.7,379.9 263.0,382.0 268.0,386.0 269.0,394.0 267.0,404.0"/>
<polyline points="239.3,439.1 241.4,443.5 243.6,449.3 248.0,452.2 253.8,452.9 258.1,451.4 265.4,453.6 271.2,456.5 277.0,457.2 284.2,458.7 292.5,461.0"/>
<polyline points="267.0,404.0 268.0,414.0 266.0,422.0 266.8,423.2 270.4,431.2 272.6,436.2 277.0,439.1 279.9,443.5 281.3,449.3 285.7,451.4 290.0,453.0 292.5,461.0 295.0,467.5 291.2,475.0 290.9,480.0"/>
<polyline points="267.0,404.0 275.0,408.0 285.0,412.0 290.0,416.0 301.0,415.0 310.0,417.0 313.0,410.0 316.0,408.0 319.0,412.0 323.0,416.0 335.0,419.0 343.0,421.0 355.0,423.5 362.5,428.5 367.5,428.5 375.0,427.0"/>
<polyline points="290.9,480.0 285.8,485.8 285.8,493.0 288.7,498.1 294.5,500.3 301.7,503.9 305.4,511.2 304.6,517.7 309.0,522.0 314.1,524.9 315.5,530.7 316.2,537.2 319.1,536.5"/>
<polyline points="362.5,428.5 355.0,440.0 348.8,448.8 347.5,457.5 341.2,466.2 336.2,472.5 333.8,481.0 327.8,483.6 322.0,487.2 317.7,493.8 313.3,498.1 309.0,500.3 305.4,503.2 301.7,503.9"/>
<polyline points="410.0,381.0 404.0,386.0 400.0,391.0 395.0,398.0 390.0,403.0 383.0,407.0 380.0,413.0 378.0,419.0 375.0,427.0 376.2,437.5 380.0,447.5 376.2,457.5 375.0,470.0 373.8,480.0 380.0,490.0 385.0,497.5 386.0,504.0"/>
<polyline points="472.0,386.0 477.0,398.0 476.0,410.0 480.0,419.0 481.0,430.0 485.0,440.0 490.0,448.0 491.0,456.0 493.0,464.0"/>
<polyline points="420.0,383.0 430.0,385.0 440.0,388.0 452.0,388.0 467.0,386.0 473.0,385.0 482.0,376.0"/>
</g>
<polyline points="468.5,190.0 466.0,194.0 458.0,202.0 451.0,209.0 446.0,216.0 445.0,225.0 444.0,233.0 448.0,240.0 455.0,247.0 457.0,256.0 462.0,260.0 459.0,266.0 464.0,272.0 466.0,280.0 469.0,288.0 477.0,292.0 480.0,299.0 484.0,308.0 477.0,310.0 470.0,313.0 473.0,317.0 469.0,320.0 468.0,325.0 461.0,328.0 459.0,324.0 458.0,319.0 452.0,317.0 446.0,318.0 441.0,320.0 442.0,325.0 439.0,329.0 442.0,335.0 444.0,339.0 441.0,345.0 446.0,349.0 450.0,357.0 455.0,366.0 457.0,375.0 460.0,379.0 467.0,375.0 474.0,379.0 482.0,376.0 489.0,371.0 496.0,371.0 499.0,378.0 501.0,384.0 505.0,392.0 508.0,400.0 514.0,404.0 516.0,410.0 520.0,416.0 528.0,418.0 531.0,424.0 535.0,429.0 534.0,438.0 533.0,448.0 534.0,456.0 530.0,459.0 526.0,462.0 522.0,461.0 520.0,458.0 516.0,453.0 510.0,452.0 504.0,448.0 500.0,444.0 495.0,444.0 491.0,450.0 494.0,456.0 493.0,464.0 490.0,465.0 485.0,466.0 481.0,471.0 477.0,478.0 473.0,474.0 470.0,466.0 462.0,464.0 458.0,460.0 453.0,462.0 450.0,469.0 445.0,474.0 442.0,471.0" fill="none" stroke="#000" stroke-width="1.3" stroke-linejoin="round" stroke-linecap="round"/>
<polyline points="442.0,471.0 434.0,472.0 430.0,475.0 424.0,474.0 419.0,479.0 416.0,480.0 408.0,476.0 402.0,472.0 398.0,476.0 395.0,482.0 398.0,488.0 393.0,493.0 387.0,498.0 386.0,504.0 381.0,510.0 377.0,516.0 379.0,522.0 377.0,528.0 380.0,533.0 380.0,537.0 377.1,538.0 372.8,540.9 367.0,544.5 368.4,548.8 365.5,544.5 361.2,546.7 356.8,548.1 351.0,549.6 346.7,545.9 340.9,544.5 335.1,541.6 330.7,543.8 330.0,548.8 327.1,551.0 324.2,546.7 322.8,542.3 322.8,538.0 319.1,536.5 314.8,539.4 307.5,540.1 298.8,542.3 293.0,543.8 287.0,546.8 279.0,546.1 273.9,542.5 268.1,541.7 263.8,538.1 258.0,535.2 253.6,531.6 247.8,530.1 242.0,526.5 236.2,525.8 231.2,522.9 228.3,517.8 223.9,514.9 220.3,509.9 217.4,504.8 213.8,501.2 214.5,496.1 215.2,491.0 221.0,488.8 217.4,484.5 213.8,480.1 210.1,474.3 209.6,469.6 211.7,466.7 214.6,465.2 217.5,460.9 221.2,455.8 222.6,450.0 222.6,445.7 226.2,441.3 232.0,440.6 237.8,442.0 240.0,442.0 239.3,439.1 236.4,434.8 231.3,427.5 229.9,421.7 231.3,415.9 227.7,412.3 219.7,408.7 214.6,409.4 205.9,407.2 200.1,402.9 195.5,399.5 194.8,393.0 194.1,385.0 193.3,380.7 186.8,378.5 183.2,376.3 181.7,371.2 178.1,366.2 176.7,362.5 181.7,358.2 189.0,356.7 194.1,353.8 197.7,353.1 202.8,355.3 207.8,357.5 212.2,356.0 213.6,350.9 219.4,349.5 222.3,350.2 225.4,346.2 232.6,341.8 238.4,340.4 246.4,334.6 247.1,328.8 244.9,324.4 246.4,320.1 250.0,315.7 251.4,311.4 254.3,307.8 250.7,302.7 244.9,300.5 242.0,294.7 244.9,294.0 245.7,287.5 247.8,286.7 249.3,291.8 260.9,291.8 263.8,288.2 271.0,286.7 278.3,283.8 281.2,284.6 287.0,280.9 293.2,275.6 298.3,273.4 302.6,274.1 308.4,272.7 312.8,276.3 317.8,275.6 324.3,279.2 335.9,277.0 339.6,272.0 352.6,269.8 353.3,266.2 358.4,261.8 354.8,254.6 358.4,249.5 357.0,243.7 353.3,239.3 350.4,236.0 348.7,231.6 348.1,224.7 349.2,221.2 348.7,214.2 349.8,210.1 350.4,204.2 351.6,200.2 355.2,197.4 365.1,197.1 368.6,193.6 371.5,187.1 370.9,184.8 372.1,179.0 373.8,176.6 382.6,173.7 383.7,170.8 387.8,168.5 388.4,165.0 390.7,161.5 389.0,153.9 383.7,150.4 379.7,147.5 386.6,139.9 396.0,137.6 398.3,133.5 404.1,130.6 407.8,127.3 412.8,121.2 409.8,118.2 414.9,114.2 420.9,111.1 429.0,109.1 432.0,112.1 433.0,122.3 431.0,130.3 427.0,138.4 429.0,145.5 433.0,150.6 441.2,154.6 445.2,159.7 450.3,164.7 453.3,171.8 463.4,175.9 466.4,178.9 468.5,190.0" fill="none" stroke="#000" stroke-width="1.85" stroke-linejoin="round" stroke-linecap="round"/>
<g fill="#000"><ellipse cx="321.4" cy="373.2" rx="2.6" ry="2.9"/><ellipse cx="300.3" cy="494.5" rx="2.6" ry="2.9"/><ellipse cx="395" cy="401.6" rx="2.6" ry="2.9"/><ellipse cx="448" cy="398" rx="2.6" ry="2.9"/><ellipse cx="425" cy="323.4" rx="2.6" ry="2.9"/><ellipse cx="450.6" cy="298.6" rx="2.6" ry="2.9"/><ellipse cx="374.4" cy="277" rx="2.6" ry="2.9"/><ellipse cx="443.4" cy="208.4" rx="2.6" ry="2.9"/></g>
<g font-family="DejaVu Sans Light, DejaVu Sans, Liberation Sans, sans-serif" font-weight="200" font-size="17" fill="#000" stroke="#000" stroke-width="0.45">
<text x="309" y="392" textLength="28" lengthAdjust="spacingAndGlyphs">TO</text>
<text x="288" y="512.8" textLength="28.5" lengthAdjust="spacingAndGlyphs">CN</text>
<text x="384" y="419.3" textLength="25" lengthAdjust="spacingAndGlyphs">AT</text>
<text x="438" y="417.3" textLength="22.5" lengthAdjust="spacingAndGlyphs">AL</text>
<text x="412" y="342.3" textLength="28" lengthAdjust="spacingAndGlyphs">VC</text>
<text x="438" y="317" textLength="29" lengthAdjust="spacingAndGlyphs">NO</text>
<text x="367" y="295.3" textLength="19" lengthAdjust="spacingAndGlyphs">BI</text>
<text x="430" y="227.2" textLength="28" lengthAdjust="spacingAndGlyphs">VB</text>
</g>
</g>
</svg>
<path d="M548.3,102.5H159.5V569.5H548.3" fill="none" stroke="#000" stroke-width="2.2" stroke-linejoin="miter"/><path d="M547.8,101.4V570.6" stroke="#000" stroke-width="1.7"/>
<g font-family="Liberation Sans, sans-serif" font-weight="700" font-size="12.3" fill="#000"><line x1="156" y1="121.0" x2="159" y2="121.0" stroke="#000" stroke-width="1.3"/><text x="154.3" y="126.2" text-anchor="end" textLength="23.5" lengthAdjust="spacingAndGlyphs">46.4N</text><line x1="156" y1="158.4" x2="159" y2="158.4" stroke="#000" stroke-width="1.3"/><text x="154.3" y="163.6" text-anchor="end" textLength="23.5" lengthAdjust="spacingAndGlyphs">46.2N</text><line x1="156" y1="195.8" x2="159" y2="195.8" stroke="#000" stroke-width="1.3"/><text x="154.3" y="201.0" text-anchor="end" textLength="15" lengthAdjust="spacingAndGlyphs">46N</text><line x1="156" y1="233.2" x2="159" y2="233.2" stroke="#000" stroke-width="1.3"/><text x="154.3" y="238.4" text-anchor="end" textLength="23.5" lengthAdjust="spacingAndGlyphs">45.8N</text><line x1="156" y1="270.6" x2="159" y2="270.6" stroke="#000" stroke-width="1.3"/><text x="154.3" y="275.8" text-anchor="end" textLength="23.5" lengthAdjust="spacingAndGlyphs">45.6N</text><line x1="156" y1="308.0" x2="159" y2="308.0" stroke="#000" stroke-width="1.3"/><text x="154.3" y="313.2" text-anchor="end" textLength="23.5" lengthAdjust="spacingAndGlyphs">45.4N</text><line x1="156" y1="345.4" x2="159" y2="345.4" stroke="#000" stroke-width="1.3"/><text x="154.3" y="350.6" text-anchor="end" textLength="23.5" lengthAdjust="spacingAndGlyphs">45.2N</text><line x1="156" y1="382.8" x2="159" y2="382.8" stroke="#000" stroke-width="1.3"/><text x="154.3" y="388.0" text-anchor="end" textLength="15" lengthAdjust="spacingAndGlyphs">45N</text><line x1="156" y1="420.2" x2="159" y2="420.2" stroke="#000" stroke-width="1.3"/><text x="154.3" y="425.4" text-anchor="end" textLength="23.5" lengthAdjust="spacingAndGlyphs">44.8N</text><line x1="156" y1="457.6" x2="159" y2="457.6" stroke="#000" stroke-width="1.3"/><text x="154.3" y="462.8" text-anchor="end" textLength="23.5" lengthAdjust="spacingAndGlyphs">44.6N</text><line x1="156" y1="495.0" x2="159" y2="495.0" stroke="#000" stroke-width="1.3"/><text x="154.3" y="500.2" text-anchor="end" textLength="23.5" lengthAdjust="spacingAndGlyphs">44.4N</text><line x1="156" y1="532.4" x2="159" y2="532.4" stroke="#000" stroke-width="1.3"/><text x="154.3" y="537.6" text-anchor="end" textLength="23.5" lengthAdjust="spacingAndGlyphs">44.2N</text><line x1="156" y1="569.8" x2="159" y2="569.8" stroke="#000" stroke-width="1.3"/><text x="154.3" y="575.0" text-anchor="end" textLength="15" lengthAdjust="spacingAndGlyphs">44N</text><text x="173.0" y="583.4" text-anchor="middle" textLength="18.5" lengthAdjust="spacingAndGlyphs">6.6E</text><text x="214.6" y="583.4" text-anchor="middle" textLength="18.5" lengthAdjust="spacingAndGlyphs">6.9E</text><text x="256.2" y="583.4" text-anchor="middle" textLength="18.5" lengthAdjust="spacingAndGlyphs">7.2E</text><text x="297.8" y="583.4" text-anchor="middle" textLength="18.5" lengthAdjust="spacingAndGlyphs">7.5E</text><text x="339.4" y="583.4" text-anchor="middle" textLength="18.5" lengthAdjust="spacingAndGlyphs">7.8E</text><text x="381.0" y="583.4" text-anchor="middle" textLength="18.5" lengthAdjust="spacingAndGlyphs">8.1E</text><text x="422.6" y="583.4" text-anchor="middle" textLength="18.5" lengthAdjust="spacingAndGlyphs">8.4E</text><text x="464.2" y="583.4" text-anchor="middle" textLength="18.5" lengthAdjust="spacingAndGlyphs">8.7E</text><text x="505.8" y="583.4" text-anchor="middle" textLength="9.0" lengthAdjust="spacingAndGlyphs">9E</text></g>
<g font-family="Liberation Sans, sans-serif" font-size="12.6" fill="#000"><polygon points="607.5,114.0 613.5,92.5 619.5,114.0" fill="#d200d2" stroke="#000" stroke-width="1.2" stroke-linejoin="miter"/><rect x="607.5" y="114.00" width="12" height="21.61" fill="#c800c8" stroke="#000" stroke-width="1.2"/><rect x="607.5" y="135.61" width="12" height="21.61" fill="#b900b4" stroke="#000" stroke-width="1.2"/><rect x="607.5" y="157.22" width="12" height="21.61" fill="#aa00a0" stroke="#000" stroke-width="1.2"/><rect x="607.5" y="178.83" width="12" height="21.61" fill="#9b008c" stroke="#000" stroke-width="1.2"/><rect x="607.5" y="200.44" width="12" height="21.61" fill="#800078" stroke="#000" stroke-width="1.2"/><rect x="607.5" y="222.05" width="12" height="21.61" fill="#000064" stroke="#000" stroke-width="1.2"/><rect x="607.5" y="243.66" width="12" height="21.61" fill="#001473" stroke="#000" stroke-width="1.2"/><rect x="607.5" y="265.27" width="12" height="21.61" fill="#00268e" stroke="#000" stroke-width="1.2"/><rect x="607.5" y="286.88" width="12" height="21.61" fill="#003ab4" stroke="#000" stroke-width="1.2"/><rect x="607.5" y="308.49" width="12" height="21.61" fill="#0052d4" stroke="#000" stroke-width="1.2"/><rect x="607.5" y="330.11" width="12" height="21.61" fill="#0068ec" stroke="#000" stroke-width="1.2"/><rect x="607.5" y="351.72" width="12" height="21.61" fill="#007cfa" stroke="#000" stroke-width="1.2"/><rect x="607.5" y="373.33" width="12" height="21.61" fill="#0087fa" stroke="#000" stroke-width="1.2"/><rect x="607.5" y="394.94" width="12" height="21.61" fill="#0096fa" stroke="#000" stroke-width="1.2"/><rect x="607.5" y="416.55" width="12" height="21.61" fill="#00a8fa" stroke="#000" stroke-width="1.2"/><rect x="607.5" y="438.16" width="12" height="21.61" fill="#00befc" stroke="#000" stroke-width="1.2"/><rect x="607.5" y="459.77" width="12" height="21.61" fill="#00d4fc" stroke="#000" stroke-width="1.2"/><rect x="607.5" y="481.38" width="12" height="21.61" fill="#00ebfc" stroke="#000" stroke-width="1.2"/><rect x="607.5" y="502.99" width="12" height="21.61" fill="#00fcfc" stroke="#000" stroke-width="1.2"/><polygon points="607.5,524.60 613.5,546.5 619.5,524.60" fill="#fff" stroke="#000" stroke-width="1.2"/><text x="623" y="118.6">300</text><text x="623" y="140.2">250</text><text x="623" y="161.8">200</text><text x="623" y="183.4">150</text><text x="623" y="205.0">120</text><text x="623" y="226.7">100</text><text x="623" y="248.3">90</text><text x="623" y="269.9">80</text><text x="623" y="291.5">70</text><text x="623" y="313.1">60</text><text x="623" y="334.7">50</text><text x="623" y="356.3">40</text><text x="623" y="377.9">30</text><text x="623" y="399.5">25</text><text x="623" y="421.1">20</text><text x="623" y="442.8">15</text><text x="623" y="464.4">10</text><text x="623" y="486.0">5</text><text x="623" y="507.6">2.5</text><text x="623" y="529.2">1</text></g>
<g font-family="DejaVu Sans Light, DejaVu Sans, Liberation Sans, sans-serif" font-weight="200" font-size="9.2" fill="#000" stroke="#000" stroke-width="0.3"><text><tspan x="244.3" y="598.7" textLength="18.9" lengthAdjust="spacingAndGlyphs">Dati</tspan> <tspan x="268.2" y="598.7" textLength="11.0" lengthAdjust="spacingAndGlyphs">ed</tspan> <tspan x="284.2" y="598.7" textLength="54.8" lengthAdjust="spacingAndGlyphs">Elaborazioni</tspan> <tspan x="346.3" y="598.7" textLength="6.3" lengthAdjust="spacingAndGlyphs">—</tspan> <tspan x="358" y="598.7" textLength="18.9" lengthAdjust="spacingAndGlyphs">Arpa</tspan> <tspan x="383.5" y="598.7" textLength="43.2" lengthAdjust="spacingAndGlyphs">Piemonte</tspan></text></g>
</svg>
</body></html>
